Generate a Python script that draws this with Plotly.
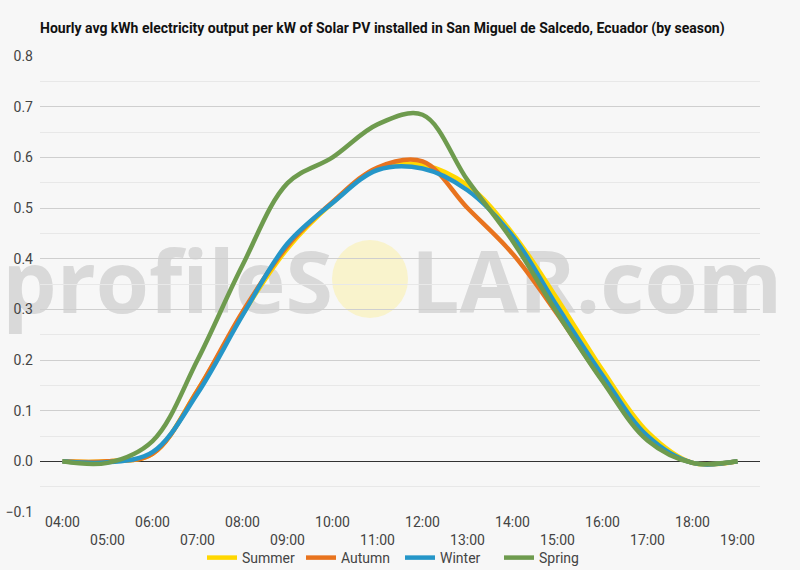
import plotly.graph_objects as go

hours = ["04:00", "05:00", "06:00", "07:00", "08:00", "09:00", "10:00", "11:00",
         "12:00", "13:00", "14:00", "15:00", "16:00", "17:00", "18:00", "19:00"]
summer = [0, 0, 0.015, 0.14, 0.29, 0.42, 0.51, 0.578, 0.585, 0.545, 0.45, 0.32, 0.18, 0.058, -0.003, 0]
autumn = [0, 0, 0.015, 0.14, 0.295, 0.425, 0.512, 0.58, 0.592, 0.50, 0.41, 0.29, 0.16, 0.045, -0.003, 0]
winter = [0, -0.002, 0.018, 0.134, 0.288, 0.43, 0.51, 0.575, 0.578, 0.535, 0.445, 0.305, 0.17, 0.05, -0.003, 0]
spring = [0, -0.003, 0.04, 0.2, 0.387, 0.549, 0.60, 0.665, 0.684, 0.555, 0.435, 0.292, 0.158, 0.041, -0.003, 0]

series = [("Summer", summer, "#ffd700"),
          ("Autumn", autumn, "#e8731e"),
          ("Winter", winter, "#2596c8"),
          ("Spring", spring, "#6e9b4e")]

tick_text = [h if i % 2 == 0 else "<br>" + h for i, h in enumerate(hours)]

W, H = 800, 570
L, R, T, B = 40, 40, 56, 58
PW, PH = W - L - R, H - T - B


def px(x):
    return (x - L) / PW


def py(y):
    return (H - B - y) / PH


fig = go.Figure()
for name, vals, col in series:
    fig.add_trace(go.Scatter(x=hours, y=vals, name=name, mode="lines",
                             line=dict(color=col, width=4.5, shape="spline", smoothing=1)))

wm_font = dict(family="Open Sans", size=86, color="#d9d9d9", weight=700)
shapes = [
    dict(type="rect", xref="paper", yref="paper", x0=px(0), x1=px(336), y0=py(325), y1=py(245),
         line=dict(width=0), fillcolor="rgba(0,0,0,0)", layer="below",
         label=dict(text="profileS", font=wm_font, textposition="middle right", padding=0)),
    dict(type="rect", xref="paper", yref="paper", x0=px(408), x1=px(800), y0=py(325), y1=py(245),
         line=dict(width=0), fillcolor="rgba(0,0,0,0)", layer="below",
         label=dict(text="LAR.com", font=wm_font, textposition="middle left", padding=0)),
    dict(type="circle", xref="paper", yref="paper", x0=px(332), x1=px(408), y0=py(318), y1=py(240),
         line=dict(width=0), fillcolor="#f9f3cc", layer="below"),
]

fig.update_layout(
    width=W, height=H,
    margin=dict(l=L, r=R, t=T, b=B, autoexpand=False),
    paper_bgcolor="#f7f7f7", plot_bgcolor="#f7f7f7",
    font=dict(family="Roboto", size=13, color="#444"),
    title=dict(text="<b>Hourly avg kWh electricity output per kW of Solar PV installed in San Miguel de Salcedo, Ecuador (by season)</b>",
               x=40 / W, xanchor="left", y=1 - 28 / H, yanchor="middle",
               font=dict(family="Roboto", size=14, color="#111")),
    showlegend=True,
    legend=dict(orientation="h", x=0.5, xanchor="center", y=py(558), yanchor="middle",
                font=dict(size=14, color="#444"), itemwidth=30, bgcolor="rgba(0,0,0,0)",
                entrywidth=54, entrywidthmode="pixels", traceorder="normal"),
    shapes=shapes,
    xaxis=dict(type="category", range=[-0.5, 15.5], tickvals=hours, ticktext=tick_text,
               tickangle=0, showgrid=False, zeroline=False, showline=False, ticks="",
               automargin=False, tickfont=dict(size=14, color="#444")),
    yaxis=dict(range=[-0.1, 0.8], dtick=0.1, tick0=0, tickformat=".1f",
               showgrid=True, gridcolor="#cfcfcf", gridwidth=1,
               minor=dict(dtick=0.05, showgrid=True, gridcolor="#e8e8e8", gridwidth=1),
               zeroline=True, zerolinecolor="#333", zerolinewidth=1, automargin=False,
               ticklabelstandoff=6,
               showline=False, ticks="", tickfont=dict(size=14, color="#444")),
)

fig.write_html("out.html")
